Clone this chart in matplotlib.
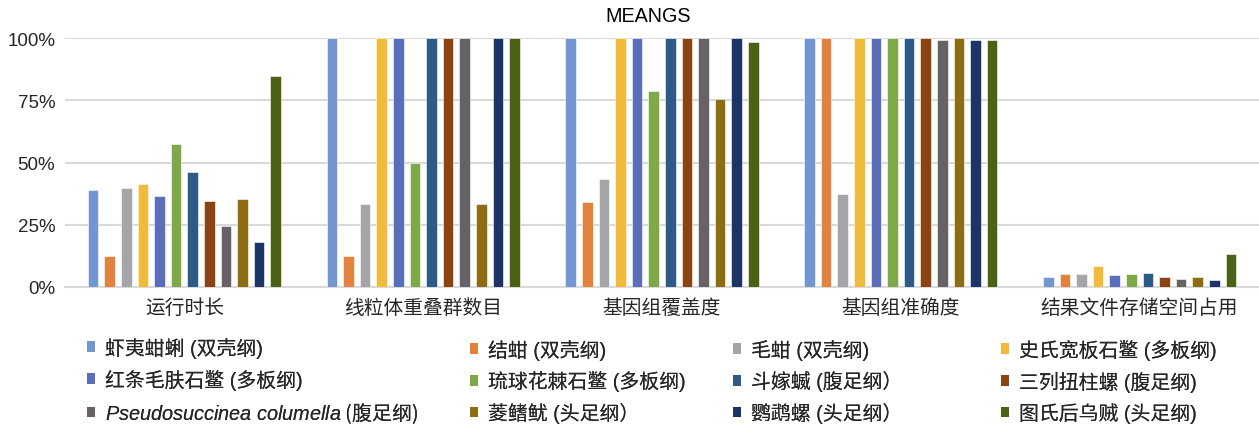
import matplotlib
matplotlib.use("Agg")
import matplotlib.pyplot as plt
import numpy as np
from matplotlib.patches import Patch

plt.rcParams['font.family'] = ['Liberation Sans', 'Noto Sans CJK SC', 'DejaVu Sans']
plt.rcParams['mathtext.fontset'] = 'custom'
plt.rcParams['mathtext.it'] = 'Liberation Sans:italic'
plt.rcParams['mathtext.rm'] = 'Liberation Sans'

title = "MEANGS"
categories = ["运行时长", "线粒体重叠群数目", "基因组覆盖度", "基因组准确度", "结果文件存储空间占用"]
series_names = [
    "虾夷蚶蜊 (双壳纲)", "结蚶 (双壳纲)", "毛蚶 (双壳纲)", "史氏宽板石鳖 (多板纲)",
    "红条毛肤石鳖 (多板纲)", "琉球花棘石鳖 (多板纲)", "斗嫁蝛 (腹足纲）", "三列扭柱螺 (腹足纲)",
    r"$\mathit{Pseudosuccinea\ columella}$ (腹足纲)", "菱鳍鱿 (头足纲）", "鹦鹉螺 (头足纲）", "图氏后乌贼 (头足纲)",
]
# values (%) per series across the 5 categories
values = [
    [39.1, 100, 100, 100, 4.1],
    [12.3, 12.3, 34.3, 100, 5.1],
    [39.8, 33.3, 43.2, 37.5, 5.2],
    [41.2, 100, 100, 100, 8.3],
    [36.5, 100, 100, 100, 4.8],
    [57.4, 50.0, 78.7, 100, 5.1],
    [46.1, 100, 100, 100, 5.6],
    [34.4, 100, 100, 100, 3.9],
    [24.5, 100, 100, 99.3, 3.2],
    [35.3, 33.3, 75.5, 100, 4.0],
    [18.1, 100, 100, 99.1, 2.8],
    [84.9, 100, 98.4, 99.1, 13.4],
]
colors = ["#7395D0", "#E2823F", "#A5A4A8", "#F2BA3B", "#5A6EB9", "#7FA849",
          "#2E5A88", "#8A4311", "#676266", "#8D6D14", "#1C3566", "#4B6114"]

W, H = 1259, 427
fig = plt.figure(figsize=(W / 100, H / 100), dpi=100)
ax = fig.add_axes([65 / W, 1 - 288 / H, (W - 65) / W, (288 - 39) / H])

x = np.arange(len(categories))
n = len(series_names)
pitch = 0.0695
bw = 0.045
for j in range(n):
    ax.bar(x + (j - (n - 1) / 2) * pitch, np.array(values[j]) / 100.0, width=bw,
           color=colors[j], edgecolor='white', linewidth=0.4, zorder=3, label=series_names[j])

ax.set_xlim(-0.5, len(categories) - 0.5)
ax.set_ylim(0, 1.0)
ax.set_yticks([0, 0.25, 0.5, 0.75, 1.0])
ax.set_yticklabels(["0%", "25%", "50%", "75%", "100%"])
ax.set_xticks(x)
ax.set_xticklabels(categories)
ax.tick_params(axis='both', length=0, labelsize=13.5, colors='#262626')
ax.tick_params(axis='x', pad=8, labelsize=14.2)
ax.tick_params(axis='y', pad=7)
ax.grid(axis='y', color='#D9D9D9', linewidth=1.5, zorder=0)
for s in ['top', 'right', 'left']:
    ax.spines[s].set_visible(False)
ax.spines['bottom'].set_color('#D9D9D9')
ax.spines['bottom'].set_linewidth(1.5)

fig.text(648 / W, 1 - 17 / H, title, ha='center', va='center', fontsize=14.2, color='#000000')

handles = [Patch(facecolor=c, edgecolor='none') for c in colors]
col_x = [87, 470, 733, 1001]
for c in range(4):
    idx = [c, c + 4, c + 8]
    leg = fig.legend([handles[i] for i in idx], [series_names[i] for i in idx],
                     loc='center left', bbox_to_anchor=(col_x[c] / W, 1 - 382 / H),
                     frameon=False, fontsize=14.3, handlelength=0.42, handleheight=0.42,
                     handletextpad=0.5, labelspacing=0.55, borderpad=0, borderaxespad=0)
    for t in leg.get_texts():
        t.set_color('#262626')
        if '$' in t.get_text():
            # non-math part needs a CJK-capable first family
            t.set_fontfamily('Noto Sans CJK SC')
    fig.add_artist(leg)

fig.savefig("out.png", dpi=100)
